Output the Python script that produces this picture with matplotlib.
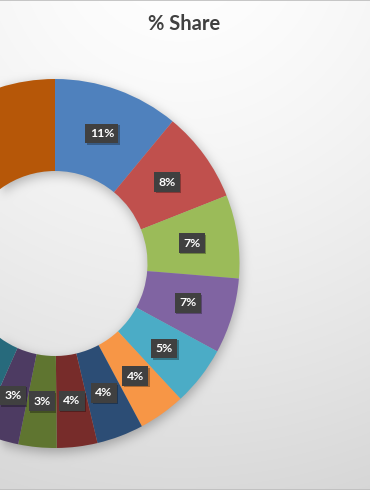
import numpy as np
import matplotlib.pyplot as plt
import matplotlib.transforms as mtransforms

# share of each category (clockwise from 12 o'clock)
shares = [11, 8, 7.3, 6.6, 5.2, 4.1, 4.1, 3.55, 3.35, 3.45, 3.75, 39.6]
colors = ['#4F81BD', '#C0504D', '#9BBB59', '#8064A2', '#4BACC6', '#F79646',
          '#2C4D75', '#772C2A', '#5F7530', '#4D3B62', '#276A7C', '#B65708']
title = '% Share'

W, H = 370, 490
cx, cy = 55, 263.5      # donut centre in pixels (from top)
r_out, r_in = 184.5, 92.5

fig = plt.figure(figsize=(W / 100, H / 100), dpi=100)
ax = fig.add_axes([0, 0, 1, 1])

# soft grey background + blurred drop shadow of the ring
yy, xx = np.mgrid[0:H, 0:W] + 0.5
d = np.hypot(xx - 180, yy + 60) / 560
bg = np.clip(1 - 0.15 * d ** 1.5, 0, 1)

rr = np.hypot(xx - (cx + 1), yy - (cy + 4))
mask = ((rr <= r_out) & (rr >= r_in)).astype(float)


def blur(a, k=5, n=3):
    ker = np.ones(2 * k + 1) / (2 * k + 1)
    for _ in range(n):
        a = np.apply_along_axis(lambda v: np.convolve(v, ker, mode='same'), 0, a)
        a = np.apply_along_axis(lambda v: np.convolve(v, ker, mode='same'), 1, a)
    return a


shadow = blur(mask) * 0.28
bg = bg * (1 - shadow)
ax.imshow(np.dstack([bg, bg, bg]), extent=[0, W, 0, H], origin='upper',
          interpolation='bilinear', zorder=0)

wedges, _, autotexts = ax.pie(
    shares, colors=colors, startangle=90, counterclock=False,
    center=(cx, H - cy), radius=r_out,
    wedgeprops=dict(width=r_out - r_in, linewidth=0),
    autopct='%1.0f%%', pctdistance=0.75)

for w in wedges:
    w.set_zorder(2)

shift = mtransforms.offset_copy(ax.transData, fig=fig, x=1.5, y=-1.5, units='dots')
for t in autotexts:
    x, y = t.get_position()
    # little drop shadow behind each label box
    ax.text(x, y, t.get_text(), transform=shift, ha='center', va='center',
            fontsize=8.8, fontweight='bold', family='Lato', color='none', zorder=3,
            bbox=dict(boxstyle='square,pad=0.35', fc='black', ec='none', alpha=0.3))
    t.set_color('white')
    t.set_fontsize(8.8)
    t.set_fontweight('bold')
    t.set_family('Lato')
    t.set_zorder(4)
    t.set_bbox(dict(boxstyle='square,pad=0.35', fc='#404040', ec='none'))

ax.set_xlim(0, W)
ax.set_ylim(0, H)
ax.set_aspect('auto')
ax.axis('off')

# thin frame lines at top and bottom
ax.plot([0, W], [H - 0.5, H - 0.5], color='#bdbdbd', lw=1.2, zorder=5)
ax.plot([0, W], [0.5, 0.5], color='#bdbdbd', lw=1.2, zorder=5)

fig.text(184 / W, 1 - 30 / H, title, ha='center', va='baseline',
         fontsize=14.5, fontweight='bold', color='#404040', family='Lato')

fig.savefig('out.png', dpi=100)
